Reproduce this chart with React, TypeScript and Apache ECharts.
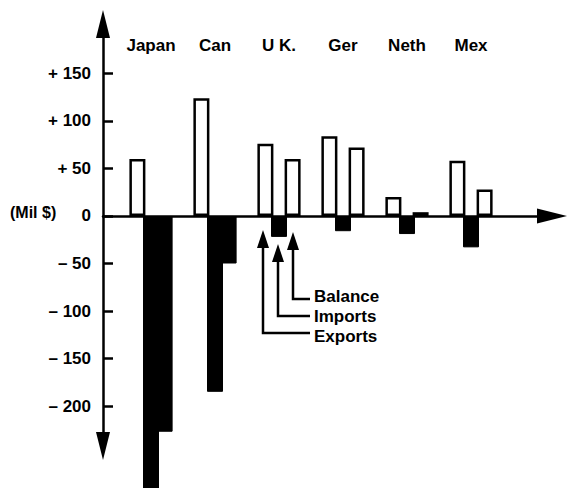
import React, { useEffect, useRef } from 'react';
import * as echarts from 'echarts';

const countries = ['Japan', 'Can', 'U K.', 'Ger', 'Neth', 'Mex'];
const exportsValues = [60, 124, 76, 84, 20, 58];
const importsValues = [-290, -185, -22, -16, -19, -33];
const balanceValues = [-227, -50, 60, 72, 4, 28];
const yTickValues = [-200, -150, -100, -50, 0, 50, 100, 150];
const unitLabel = '(Mil $)';
const legendLabels = ['Balance', 'Imports', 'Exports'];

const FONT = '"Liberation Sans", Arial, Helvetica, sans-serif';
const Y_MIN = -242;
const Y_MAX = 202;

function formatTick(v: number): string {
  if (v > 0) return '+ ' + v;
  if (v < 0) return '\u2013 ' + Math.abs(v);
  return '0';
}

function arrowGroup(x: number, tipY: number, elbowY: number, endX: number) {
  return [
    {
      type: 'polygon',
      shape: { points: [[x - 6, tipY + 18], [x, tipY], [x + 6, tipY + 18]] },
      style: { fill: '#000' },
    },
    {
      type: 'polyline',
      shape: { points: [[x, tipY + 14], [x, elbowY], [endX, elbowY]] },
      style: { stroke: '#000', lineWidth: 2.5, fill: null },
    },
  ];
}

export default function App() {
  const ref = useRef<HTMLDivElement>(null);
  useEffect(() => {
    if (!ref.current) return;
    const chart = echarts.init(ref.current, null, { renderer: 'svg' });
    const black = '#000';
    const lineStyle = { color: black, width: 2.5 };
    const textBase = { fontFamily: FONT, fontWeight: 'bold', color: black };

    const option: any = {
      animation: false,
      backgroundColor: '#fff',
      grid: [
        { left: 103, right: 33, top: 24, bottom: 42 },
        { left: 119, width: 384, top: 24, bottom: 42 },
        { left: 119, width: 384, top: 20, height: 10 },
      ],
      xAxis: [
        {
          gridIndex: 0,
          type: 'value',
          min: 0,
          max: 1,
          axisLine: {
            show: true,
            onZero: true,
            symbol: ['none', 'triangle'],
            symbolSize: [15, 30],
            lineStyle,
          },
          axisTick: { show: false },
          axisLabel: { show: false },
          splitLine: { show: false },
        },
        {
          gridIndex: 1,
          type: 'category',
          data: countries,
          axisLine: { show: false },
          axisTick: { show: false },
          axisLabel: { show: false },
        },
        {
          gridIndex: 2,
          type: 'category',
          data: countries,
          position: 'bottom',
          axisLine: { show: false },
          axisTick: { show: false },
          axisLabel: { margin: 7, fontSize: 17, ...textBase },
        },
      ],
      yAxis: [
        {
          gridIndex: 0,
          type: 'value',
          min: Y_MIN,
          max: Y_MAX,
          axisLine: {
            show: true,
            onZero: false,
            symbol: ['triangle', 'triangle'],
            symbolSize: [14, 28],
            lineStyle,
          },
          axisTick: {
            show: true,
            inside: true,
            length: 10,
            customValues: yTickValues,
            lineStyle: { color: black, width: 2.5 },
          },
          axisLabel: {
            customValues: yTickValues,
            formatter: formatTick,
            margin: 12,
            fontSize: 17,
            ...textBase,
          },
          splitLine: { show: false },
        },
        { gridIndex: 1, type: 'value', min: Y_MIN, max: Y_MAX, show: false },
        { gridIndex: 2, type: 'value', show: false },
      ],
      series: [
        {
          name: 'Exports',
          type: 'bar',
          xAxisIndex: 1,
          yAxisIndex: 1,
          barWidth: 16,
          barGap: '-15%',
          clip: false,
          data: exportsValues,
          itemStyle: { color: '#fff', borderColor: black, borderWidth: 2.5 },
        },
        {
          name: 'Imports',
          type: 'bar',
          xAxisIndex: 1,
          yAxisIndex: 1,
          barWidth: 16,
          barGap: '-15%',
          clip: false,
          data: importsValues,
          itemStyle: { color: black, borderColor: black, borderWidth: 1 },
        },
        {
          name: 'Balance',
          type: 'bar',
          xAxisIndex: 1,
          yAxisIndex: 1,
          barWidth: 16,
          barGap: '-15%',
          clip: false,
          data: balanceValues.map((v) => ({
            value: v,
            itemStyle: {
              color: v < 0 ? black : '#fff',
              borderColor: black,
              borderWidth: v < 0 ? 1 : 2.5,
            },
          })),
        },
      ],
      graphic: [
        {
          type: 'text',
          left: 10,
          top: 204,
          style: { text: unitLabel, font: `bold 16px ${FONT}`, fill: black },
        },
        ...arrowGroup(293, 232, 299, 310),
        ...arrowGroup(278, 244, 316, 310),
        ...arrowGroup(263, 230, 333, 310),
        {
          type: 'text',
          left: 314,
          top: 288,
          style: { text: legendLabels[0], font: `bold 17px ${FONT}`, fill: black },
        },
        {
          type: 'text',
          left: 314,
          top: 308,
          style: { text: legendLabels[1], font: `bold 17px ${FONT}`, fill: black },
        },
        {
          type: 'text',
          left: 314,
          top: 328,
          style: { text: legendLabels[2], font: `bold 17px ${FONT}`, fill: black },
        },
      ],
    };
    chart.setOption(option);
    return () => chart.dispose();
  }, []);
  return (
    <div
      ref={ref}
      style={{ position: 'fixed', left: 0, top: 0, width: 585, height: 488, background: '#fff' }}
    />
  );
}
